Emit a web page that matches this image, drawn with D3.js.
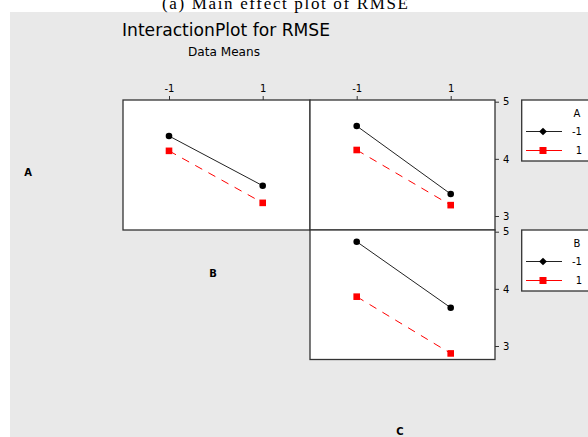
<!DOCTYPE html>
<html><head><meta charset="utf-8">
<script src="https://cdn.jsdelivr.net/npm/d3@7"></script>
<style>body{margin:0;background:#fff}svg{display:block}</style>
</head><body>
<svg id="c" width="588" height="437"></svg>
<script>
const levels = [-1, 1];
const yTicks = [3, 4, 5];
// panel AB: x = B, lines by A
const abMinus = [4.40, 3.53];
const abPlus = [4.14, 3.23];
// panel AC: x = C, lines by A
const acMinus = [4.575, 3.385];
const acPlus = [4.155, 3.19];
// panel BC: x = C, lines by B
const bcMinus = [4.825, 3.67];
const bcPlus = [3.863, 2.87];
const legendLabels = ["-1", "1"];

const svg = d3.select("#c");
svg.append("rect").attr("x", 10).attr("y", 12).attr("width", 578).attr("height", 425).attr("fill", "#e9e9e9");

svg.append("text").attr("x", 285).attr("y", 9).attr("text-anchor", "middle")
  .attr("font-family", "Liberation Serif").attr("font-size", 17).attr("textLength", 246)
  .text("(a) Main effect plot of RMSE");
svg.append("text").attr("x", 122).attr("y", 36)
  .attr("font-family", "DejaVu Sans").attr("font-size", 17).attr("textLength", 208).attr("lengthAdjust", "spacingAndGlyphs")
  .text("InteractionPlot for RMSE");
svg.append("text").attr("x", 188).attr("y", 56)
  .attr("font-family", "DejaVu Sans").attr("font-size", 12).attr("textLength", 72).attr("lengthAdjust", "spacingAndGlyphs")
  .text("Data Means");

const xB = d3.scaleLinear().domain([-1, 1]).range([169, 262.7]);
const xC = d3.scaleLinear().domain([-1, 1]).range([356.7, 450.7]);
const yTop = d3.scaleLinear().domain([3, 5]).range([216, 101.7]);
const yBot = d3.scaleLinear().domain([3, 5]).range([346, 231.7]);

const panels = [
  {x0: 123, x1: 310, y0: 100, y1: 230, xs: xB, ys: yTop, m: abMinus, p: abPlus},
  {x0: 310, x1: 495, y0: 100, y1: 230, xs: xC, ys: yTop, m: acMinus, p: acPlus},
  {x0: 310, x1: 495, y0: 230, y1: 359.5, xs: xC, ys: yBot, m: bcMinus, p: bcPlus}
];

panels.forEach(P => {
  svg.append("rect").attr("x", P.x0).attr("y", P.y0).attr("width", P.x1 - P.x0).attr("height", P.y1 - P.y0)
    .attr("fill", "#fff").attr("stroke", "#333").attr("stroke-width", 1.3);
});

panels.forEach(P => {
  const g = svg.append("g");
  const line = d3.line().x((d, i) => P.xs(levels[i])).y(d => P.ys(d));
  g.append("path").datum(P.m).attr("d", line).attr("fill", "none").attr("stroke", "#222").attr("stroke-width", 1);
  g.append("path").datum(P.p).attr("d", line).attr("fill", "none").attr("stroke", "#f00").attr("stroke-width", 1).attr("stroke-dasharray", "8,7");
  g.selectAll(".cm").data(P.m).enter().append("circle")
    .attr("cx", (d, i) => P.xs(levels[i])).attr("cy", d => P.ys(d)).attr("r", 3.3).attr("fill", "#000");
  g.selectAll(".sq").data(P.p).enter().append("rect")
    .attr("x", (d, i) => P.xs(levels[i]) - 3.3).attr("y", d => P.ys(d) - 3.3).attr("width", 6.6).attr("height", 6.6).attr("fill", "#f00");
});

function styleAxis(g) {
  g.select(".domain").remove();
  g.selectAll(".tick line").attr("stroke", "#333");
  g.selectAll(".tick text").attr("font-family", "DejaVu Sans").attr("font-size", 10).attr("fill", "#000");
}
[xB, xC].forEach(s => {
  svg.append("g").attr("transform", "translate(0,100)")
    .call(d3.axisTop(s).tickValues(levels).tickSize(4).tickPadding(4).tickFormat(d => String(d)))
    .call(styleAxis);
});
[yTop, yBot].forEach(s => {
  svg.append("g").attr("transform", "translate(495,0)")
    .call(d3.axisRight(s).tickValues(yTicks).tickSize(4).tickPadding(4).tickFormat(d => String(d)))
    .call(styleAxis);
});

// factor labels
[["A", 28, 176], ["B", 213, 277], ["C", 400, 435]].forEach(([t, x, y]) => {
  svg.append("text").attr("x", x).attr("y", y).attr("text-anchor", "middle")
    .attr("font-family", "DejaVu Sans").attr("font-weight", "bold").attr("font-size", 10).text(t);
});

// legends
[["A", 100], ["B", 230]].forEach(([t, y0]) => {
  const g = svg.append("g");
  g.append("rect").attr("x", 521.7).attr("y", y0).attr("width", 80).attr("height", 61)
    .attr("fill", "#fff").attr("stroke", "#333").attr("stroke-width", 1.3);
  g.append("text").attr("x", 577).attr("y", y0 + 17).attr("text-anchor", "middle")
    .attr("font-family", "DejaVu Sans").attr("font-size", 10).text(t);
  legendLabels.forEach((lab, i) => {
    const yy = y0 + 31.5 + i * 19;
    g.append("line").attr("x1", 526).attr("x2", 562).attr("y1", yy).attr("y2", yy)
      .attr("stroke", i ? "#f00" : "#222").attr("stroke-width", 1.2);
    if (i) g.append("rect").attr("x", 539.5).attr("y", yy - 3.5).attr("width", 7).attr("height", 7).attr("fill", "#f00");
    else g.append("path").attr("d", d3.symbol(d3.symbolSquare, 30)()).attr("transform", `translate(543,${yy}) rotate(45)`).attr("fill", "#000");
    g.append("text").attr("x", 582).attr("y", yy + 3.5).attr("text-anchor", "end")
      .attr("font-family", "DejaVu Sans").attr("font-size", 10).text(lab);
  });
});
</script>
</body></html>
